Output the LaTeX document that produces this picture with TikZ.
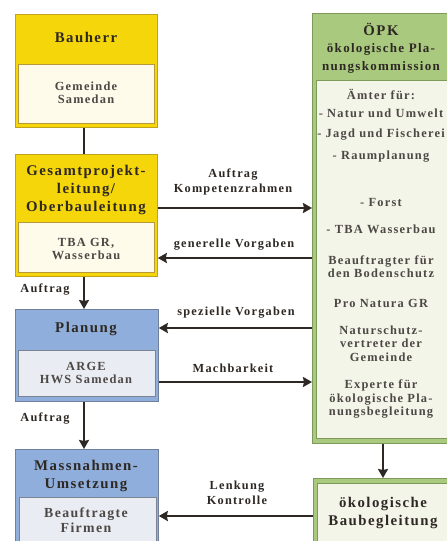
\documentclass[tikz,border=0pt]{standalone}
\usepackage{fontspec}
\setmainfont{Liberation Serif}[LetterSpace=10]
\usetikzlibrary{arrows.meta}
\definecolor{yel}{HTML}{F5D60A}
\definecolor{yelb}{HTML}{C2A21A}
\definecolor{cream}{HTML}{FFFBEA}
\definecolor{creamb}{HTML}{B8983A}
\definecolor{blu}{HTML}{8FAEDB}
\definecolor{blub}{HTML}{6F7F9C}
\definecolor{bluin}{HTML}{E9ECF2}
\definecolor{bluinb}{HTML}{7C8494}
\definecolor{grn}{HTML}{A9C97E}
\definecolor{grnb}{HTML}{7E9A5A}
\definecolor{grnin}{HTML}{F3F5E8}
\definecolor{txt}{HTML}{2E2824}
\tikzset{
  box/.style={draw=#1, line width=0.8pt, anchor=north west, inner sep=0pt},
  hdr/.style={font=\bfseries\fontsize{14.8}{18}\selectfont, text=txt, align=center, inner sep=0pt},
  sub/.style={font=\bfseries\fontsize{13}{18}\selectfont, text=txt, align=center, inner sep=0pt},
  bod/.style={font=\bfseries\fontsize{12.4}{13.5}\selectfont, text=txt!85, align=center, inner sep=0pt},
  big/.style={font=\bfseries\fontsize{13.8}{15}\selectfont, text=txt!85, align=center, inner sep=0pt},
  lbl/.style={font=\bfseries\fontsize{12.3}{14.5}\selectfont, text=txt, align=center, inner sep=0pt},
  arr/.style={line width=2.8pt, draw=txt, -{Stealth[length=9pt,width=10pt,inset=1pt]}},
  ln/.style={line width=2.8pt, draw=txt},
}
\begin{document}
\begin{tikzpicture}[x=1pt,y=-1pt]
\useasboundingbox (0,0) rectangle (447,541);
\clip (0,0) rectangle (447,541);
% left column
\node[box=yelb, fill=yel, minimum width=142pt, minimum height=113pt] (bauherr) at (15,14) {};
\node[hdr] (bauherrT) at (86,37) {Bauherr};
\node[box=creamb, fill=cream, minimum width=136pt, minimum height=59pt] (bauherrI) at (18,64) {};
\node[bod] (bauherrIT) at (86,93) {Gemeinde\\Samedan};

\node[box=yelb, fill=yel, minimum width=142pt, minimum height=122pt] (gesamt) at (15,154) {};
\node[hdr] (gesamtT) at (86,190) {Gesamtprojekt-\\leitung/\\Oberbauleitung};
\node[box=creamb, fill=cream, minimum width=136pt, minimum height=50pt] (gesamtI) at (18,222) {};
\node[bod] (gesamtIT) at (86,249) {TBA GR,\\Wasserbau};

\node[box=blub, fill=blu, minimum width=143pt, minimum height=92pt] (planung) at (15,309) {};
\node[hdr] (planungT) at (86,329) {Planung};
\node[box=bluinb, fill=bluin, minimum width=137pt, minimum height=46pt] (planungI) at (18,350) {};
\node[bod] (planungIT) at (86,373) {ARGE\\HWS Samedan};

\node[box=blub, fill=blu, minimum width=143pt, minimum height=120pt] (mass) at (15,449) {};
\node[hdr] (massT) at (86,476) {Massnahmen-\\Umsetzung};
\node[box=bluinb, fill=bluin, minimum width=137pt, minimum height=80pt] (massI) at (19,497) {};
\node[big] (massIT) at (86,520.5) {Beauftragte\\Firmen};

% right column
\node[box=grnb, fill=grn, minimum width=150pt, minimum height=430pt] (oepk) at (312,13) {};
\node[hdr] (oepkT) at (381,29) {ÖPK};
\node[sub] (oepkS) at (381,58) {ökologische Pla-\\nungskommission};
\node[box=grnb, fill=grnin, minimum width=145pt, minimum height=358pt] (oepkI) at (316,80) {};
\node[bod] (l1) at (381,94) {Ämter für:};
\node[bod] (l2) at (381,113) {- Natur und Umwelt};
\node[bod] (l3) at (381,135) {- Jagd und Fischerei};
\node[bod] (l4) at (381,157) {- Raumplanung};
\node[bod] (l5) at (381,202) {- Forst};
\node[bod] (l6) at (381,229) {- TBA Wasserbau};
\node[bod] (l7) at (381,266.5) {Beauftragter für\\den Bodenschutz};
\node[bod] (l8) at (381,303) {Pro Natura GR};
\node[bod] (l9) at (381,343.5) {Naturschutz-\\vertreter der\\Gemeinde};
\node[bod] (l10) at (381,399) {Experte für\\ökologische Pla-\\nungsbegleitung};

\node[box=grnb, fill=grn, minimum width=150pt, minimum height=90pt] (baub) at (313,478) {};
\node[box=grnb, fill=grnin, minimum width=145pt, minimum height=85pt] (baubI) at (317,483) {};
\node[hdr] (baubT) at (383,512.5) {ökologische\\Baubegleitung};

% connectors
\draw[ln] (bauherr.south -| 84,0) -- (gesamt.north -| 84,0);
\draw[arr] (gesamt.south -| 84,0) -- (planung.north -| 84,0);
\node[lbl] (a1) at (45,290) {Auftrag};
\draw[arr] (planung.south -| 84,0) -- (mass.north -| 84,0);
\node[lbl] (a2) at (45,419) {Auftrag};
\draw[arr] (oepk.south -| 383,0) -- (baub.north -| 383,0);

\draw[arr] (gesamt.east |- 0,208) -- (oepk.west |- 0,208);
\node[lbl] (k1) at (233,182) {Auftrag\\Kompetenzrahmen};
\draw[arr] (oepk.west |- 0,258) -- (gesamt.east |- 0,258);
\node[lbl] (k2) at (234,245) {generelle Vorgaben};
\draw[arr] (oepk.west |- 0,328) -- (planung.east |- 0,328);
\node[lbl] (k3) at (236,313) {spezielle Vorgaben};
\draw[arr] (planung.east |- 0,382) -- (oepk.west |- 0,382);
\node[lbl] (k4) at (233,368) {Machbarkeit};
\draw[arr] (baub.west |- 0,516) -- (mass.east |- 0,516);
\node[lbl] (k5) at (237,493) {Lenkung\\Kontrolle};
\end{tikzpicture}
\end{document}
